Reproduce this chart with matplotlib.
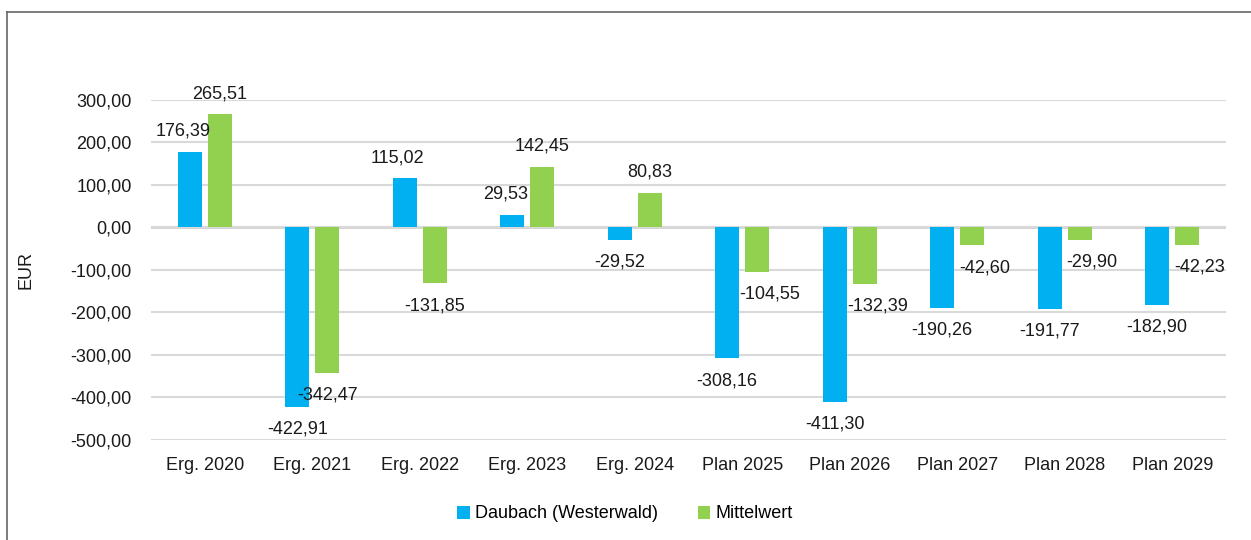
import numpy as np
import matplotlib
matplotlib.use('Agg')
import matplotlib.pyplot as plt
from matplotlib.lines import Line2D

plt.rcParams['font.family'] = ['Liberation Sans', 'DejaVu Sans']

categories = ['Erg. 2020', 'Erg. 2021', 'Erg. 2022', 'Erg. 2023', 'Erg. 2024',
              'Plan 2025', 'Plan 2026', 'Plan 2027', 'Plan 2028', 'Plan 2029']
daubach = [176.39, -422.91, 115.02, 29.53, -29.52, -308.16, -411.30, -190.26, -191.77, -182.90]
mittelwert = [265.51, -342.47, -131.85, 142.45, 80.83, -104.55, -132.39, -42.60, -29.90, -42.23]
series_names = ['Daubach (Westerwald)', 'Mittelwert']
yticks = [-500, -400, -300, -200, -100, 0, 100, 200, 300]

BLUE = '#00B0F0'
GREEN = '#92D050'
FS = 13


def de(v):
    return f'{v:.2f}'.replace('.', ',')


fig = plt.figure(figsize=(12.51, 5.40), dpi=100)
ax = fig.add_axes([151 / 1251, 100 / 540, 1075 / 1251, 340.3 / 540])

x = np.arange(len(categories))
w = 0.223
off = 0.14
b1 = ax.bar(x - off, daubach, w, color=BLUE, label=series_names[0], zorder=3)
b2 = ax.bar(x + off, mittelwert, w, color=GREEN, label=series_names[1], zorder=3)

# value labels, roughly where the original has them
for i, (bars, vals) in enumerate([(b1, daubach), (b2, mittelwert)]):
    for j, (bar, v) in enumerate(zip(bars, vals)):
        cx = bar.get_x() + bar.get_width() / 2
        dx = 0
        if i == 1 and v < 0 and categories[j].startswith('Plan'):
            dx = 9
        if i == 0 and v > 0:
            dx = -5
        dy = 15 if v >= 0 else -16
        ax.annotate(de(v), xy=(cx, v), xytext=(dx, dy), textcoords='offset points',
                    ha='center', va='center', fontsize=FS, color='#1a1a1a', zorder=4)

ax.set_xlim(-0.5, len(categories) - 0.5)
ax.set_ylim(-500, 300)
ax.set_yticks(yticks)
ax.set_yticklabels([de(t) for t in yticks], fontsize=FS, color='#1a1a1a')
ax.set_xticks(x)
ax.set_xticklabels(categories, fontsize=FS, color='#1a1a1a')
ax.tick_params(axis='y', length=0, pad=14)
ax.tick_params(axis='x', length=0, pad=12)
ax.grid(axis='y', color='#D9D9D9', linewidth=1.5, zorder=0)
ax.axhline(0, color='#D0D0D0', linewidth=2, zorder=1)
for s in ax.spines.values():
    s.set_visible(False)
ax.set_ylabel('EUR', fontsize=FS, color='#1a1a1a')
ax.yaxis.set_label_coords(-117 / 1075, 0.5)

ax.legend(loc='center', bbox_to_anchor=(625 / 1251, 26 / 540), bbox_transform=fig.transFigure,
          ncol=2, frameon=False, fontsize=FS, handlelength=0.7, handleheight=0.7,
          handletextpad=0.3, columnspacing=2.2)

# outer chart frame (top and left edge visible)
fig.add_artist(Line2D([7 / 1251, 7 / 1251], [0, 1 - 12 / 540], transform=fig.transFigure,
                      color='#666666', linewidth=1.2))
fig.add_artist(Line2D([7 / 1251, 1], [1 - 12 / 540, 1 - 12 / 540], transform=fig.transFigure,
                      color='#666666', linewidth=1.2))

plt.savefig('out.png', dpi=100)
